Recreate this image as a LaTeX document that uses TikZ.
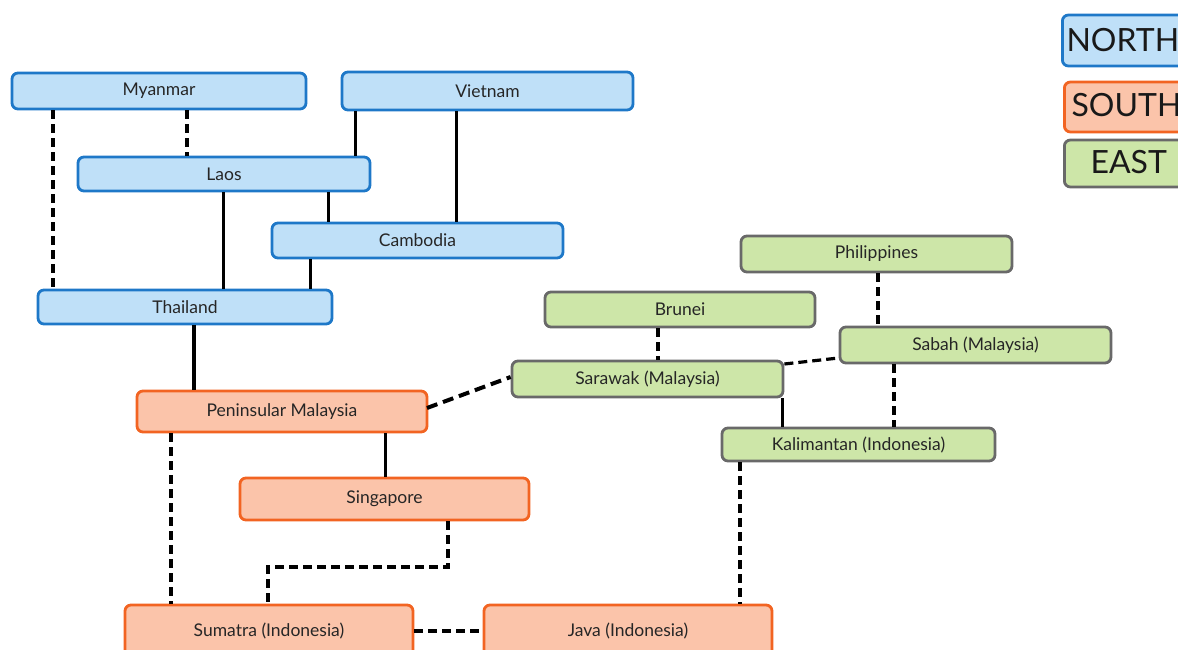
\documentclass[tikz,border=0pt]{standalone}
\usepackage{fontspec}
\setmainfont{Lato}
\begin{document}
\begin{tikzpicture}[x=1pt,y=-1pt,
  box/.style={draw, line width=2.8pt, rounded corners=6pt, text=black!85,
    font=\fontsize{17.5}{20}\selectfont, inner sep=0pt},
  north/.style={box, draw={rgb,255:red,30;green,120;blue,200}, fill={rgb,255:red,191;green,224;blue,248}},
  south/.style={box, draw={rgb,255:red,242;green,100;blue,34}, fill={rgb,255:red,251;green,196;blue,170}},
  east/.style={box, draw={rgb,255:red,105;green,105;blue,105}, fill={rgb,255:red,205;green,230;blue,168}},
  legend/.style={font=\fontsize{32}{36}\selectfont, text=black!90},
  link/.style={line width=3pt},
  dlink/.style={line width=3.2pt, dash pattern=on 9pt off 5pt},
  thick link/.style={line width=4pt},
  thick dlink/.style={line width=4pt, dash pattern=on 11pt off 6pt}]
\useasboundingbox (0,0) rectangle (1178,650);
\clip (0,0) rectangle (1178,650);

% mainland (north) group
\node[north, minimum width=294pt, minimum height=36pt] (my) at (159,91) {Myanmar};
\node[north, minimum width=291pt, minimum height=38pt] (vn) at (487.5,91) {Vietnam};
\node[north, minimum width=292pt, minimum height=34pt] (la) at (224,174) {Laos};
\node[north, minimum width=291pt, minimum height=35pt] (kh) at (417.5,240.5) {Cambodia};
\node[north, minimum width=294pt, minimum height=34pt] (th) at (185,307) {Thailand};

% peninsula and islands (south) group
\node[south, minimum width=290pt, minimum height=41pt] (pm) at (282,411.5) {Peninsular Malaysia};
\node[south, minimum width=289pt, minimum height=42pt] (sg) at (384.5,499) {Singapore};
\node[south, minimum width=288pt, minimum height=52pt] (su) at (269,631) {Sumatra (Indonesia)};
\node[south, minimum width=288pt, minimum height=52pt] (jv) at (628,631) {Java (Indonesia)};

% Borneo and Philippines (east) group
\node[east, minimum width=271pt, minimum height=36pt] (ph) at (876.5,254) {Philippines};
\node[east, minimum width=270pt, minimum height=35pt] (bn) at (680,309.5) {Brunei};
\node[east, minimum width=271pt, minimum height=36pt] (sb) at (975.5,345) {Sabah (Malaysia)};
\node[east, minimum width=271pt, minimum height=36pt] (sw) at (647.5,379) {Sarawak (Malaysia)};
\node[east, minimum width=273pt, minimum height=33pt] (ka) at (858.5,444.5) {Kalimantan (Indonesia)};

% legend
\node[north, minimum width=150pt, minimum height=51pt, anchor=west] (ln) at (1061,40.5) {};
\node[legend, anchor=west] (lnt) at (1063,40) {NORTH};
\node[south, minimum width=150pt, minimum height=50pt, anchor=west] (ls) at (1063,107) {};
\node[legend, anchor=west] (lst) at (1068,105) {SOUTH};
\node[east, minimum width=150pt, minimum height=47pt, anchor=west] (le) at (1063,163.5) {};
\node[legend, anchor=west] (let) at (1087,162) {EAST};

% mainland links
\draw[dlink] (my.south -| 53,0) -- (th.north -| 53,0);
\draw[dlink] (my.south -| 187,0) -- (la.north -| 187,0);
\draw[link] (vn.south -| 355,0) -- (la.north -| 355,0);
\draw[link] (vn.south -| 456,0) -- (kh.north -| 456,0);
\draw[link] (la.south -| 223,0) -- (th.north -| 223,0);
\draw[link] (la.south -| 328,0) -- (kh.north -| 328,0);
\draw[link] (kh.south -| 310,0) -- (th.north -| 310,0);
\draw[thick link] (th.south -| 194,0) -- (pm.north -| 194,0);

% south links
\draw[link] (pm.south -| 385,0) -- (sg.north -| 385,0);
\draw[dlink] (pm.south -| 171,0) -- (su.north -| 171,0);
\draw[dlink] (sg.south -| 448,0) -- (448,567) -- (268,567) -- (su.north -| 268,0);
\draw[dlink] (su.east) -- (jv.west);
\draw[dlink] (ka.south -| 740,0) -- (jv.north -| 740,0);
\draw[thick dlink] (427,408) -- (sw.west |- 0,377);

% east links
\draw[dlink] (bn.south -| 658,0) -- (sw.north -| 658,0);
\draw[dlink] (ph.south -| 878,0) -- (sb.north -| 878,0);
\draw[dlink] (sw.east |- 0,364) -- (sb.west |- 0,358);
\draw[link] (sw.south -| 782,0) -- (ka.north -| 782,0);
\draw[dlink] (sb.south -| 894,0) -- (ka.north -| 894,0);
\end{tikzpicture}
\end{document}
